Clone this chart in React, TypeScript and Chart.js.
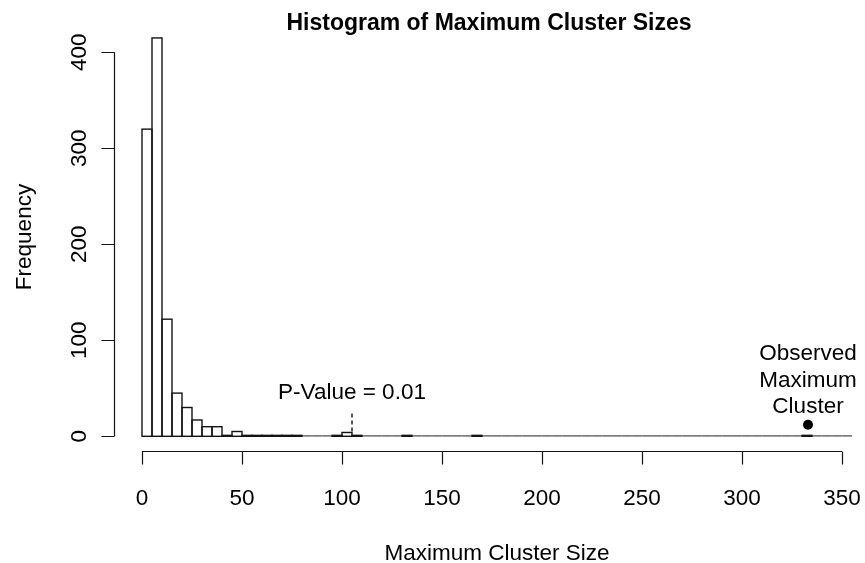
import { useEffect, useRef } from "react";
import { Chart, registerables } from "chart.js";

Chart.register(...registerables);

// Histogram bins: bin i covers [i * binWidth, (i + 1) * binWidth)
const binWidth = 5;
const clusterCounts = [
  320, 415, 122, 45, 30, 17, 10, 10, 1, 5,
  1, 1, 1, 1, 1, 1, 0, 0, 0, 1,
  4, 1, 0, 0, 0, 0, 1, 0, 0, 0,
  0, 0, 0, 1, 0, 0, 0, 0, 0, 0,
  0, 0, 0, 0, 0, 0, 0, 0, 0, 0,
  0, 0, 0, 0, 0, 0, 0, 0, 0, 0,
  0, 0, 0, 0, 0, 0, 1, 0, 0, 0,
  0,
];

const xTicks = [0, 50, 100, 150, 200, 250, 300, 350];
const yTicks = [0, 100, 200, 300, 400];

const chartTitle = "Histogram of Maximum Cluster Sizes";
const xTitle = "Maximum Cluster Size";
const yTitle = "Frequency";

// P-value marker
const pValueText = "P-Value = 0.01";
const pValueAt = 105;
const pValueDash = [5, 25];
const pValueTextY = 47;

// observed statistic
const observedSize = 333;
const observedY = 12;
const observedText = ["Observed", "Maximum", "Cluster"];
const observedTextY = 60;

const FONT = '"Liberation Sans", Arial, sans-serif';
const INK = "#141414";
const FS = 22.5;
const TITLE_FS = 23;
const CAP = 0.716;

const binCenters = clusterCounts.map((_, i) => i * binWidth + binWidth / 2);
const lastEdge = clusterCounts.length * binWidth;

function capText(ctx: CanvasRenderingContext2D, s: string, x: number, cy: number, size: number) {
  ctx.fillText(s, x, cy + (CAP * size) / 2);
}

// outlines each histogram rectangle with a centred stroke
const barOutlines = {
  id: "barOutlines",
  afterDatasetsDraw(chart: any) {
    const { ctx } = chart;
    const meta = chart.getDatasetMeta(0);
    ctx.save();
    ctx.strokeStyle = INK;
    ctx.lineWidth = 1.4;
    meta.data.forEach((el: any, i: number) => {
      if (!clusterCounts[i]) return;
      const { x, y, base, width } = el.getProps(["x", "y", "base", "width"], true);
      ctx.strokeRect(x - width / 2, y, width, base - y);
    });
    ctx.restore();
  },
};

const rStyleAxes = {
  id: "rStyleAxes",
  afterDraw(chart: any) {
    const { ctx, chartArea } = chart;
    const xs = chart.scales.x;
    const ys = chart.scales.y;
    const X = (v: number) => xs.getPixelForValue(v);
    const Y = (v: number) => ys.getPixelForValue(v);
    const tick = 13;

    ctx.save();
    ctx.strokeStyle = INK;
    ctx.fillStyle = "#000";
    ctx.lineWidth = 1.2;

    // bottom axis
    const axY = Math.round(chartArea.bottom) - 0.5;
    ctx.beginPath();
    ctx.moveTo(X(xTicks[0]), axY);
    ctx.lineTo(X(xTicks[xTicks.length - 1]), axY);
    for (const t of xTicks) {
      const px = Math.round(X(t)) + 0.5;
      ctx.moveTo(px, axY);
      ctx.lineTo(px, axY + tick);
    }
    ctx.stroke();

    ctx.font = `${FS}px ${FONT}`;
    ctx.textAlign = "center";
    ctx.textBaseline = "alphabetic";
    for (const t of xTicks) capText(ctx, String(t), X(t), axY + 45, FS);

    // left axis
    const axX = Math.round(chartArea.left) + 0.5;
    ctx.beginPath();
    ctx.moveTo(axX, Y(yTicks[0]));
    ctx.lineTo(axX, Y(yTicks[yTicks.length - 1]));
    for (const t of yTicks) {
      const py = Math.round(Y(t)) + 0.5;
      ctx.moveTo(axX, py);
      ctx.lineTo(axX - tick, py);
    }
    ctx.stroke();

    for (const t of yTicks) {
      ctx.save();
      ctx.translate(axX - 37, Y(t));
      ctx.rotate(-Math.PI / 2);
      capText(ctx, String(t), 0, 0, FS);
      ctx.restore();
    }

    // axis titles
    const midX = (chartArea.left + chartArea.right) / 2 + 14;
    capText(ctx, xTitle, midX, axY + 100, FS);

    ctx.save();
    ctx.translate(31, 237);
    ctx.rotate(-Math.PI / 2);
    ctx.fillText(yTitle, 0, 0);
    ctx.restore();

    // main title
    ctx.font = `bold ${TITLE_FS}px ${FONT}`;
    capText(ctx, chartTitle, midX - 8, 22, TITLE_FS);

    // annotations
    ctx.font = `${FS}px ${FONT}`;
    capText(ctx, pValueText, X(pValueAt), Y(pValueTextY), FS);
    const lineGap = 26.5;
    const n = observedText.length;
    observedText.forEach((s, i) => {
      capText(ctx, s, X(observedSize), Y(observedTextY) + (i - (n - 1) / 2) * lineGap, FS);
    });

    ctx.restore();
  },
};

export default function App() {
  const ref = useRef<HTMLCanvasElement | null>(null);

  useEffect(() => {
    if (!ref.current) return;
    const chart = new Chart(ref.current, {
      type: "bar",
      data: {
        datasets: [
          {
            type: "bar",
            data: binCenters.map((x, i) => ({ x, y: clusterCounts[i] })),
            backgroundColor: "#ffffff",
            borderWidth: 0,
            barPercentage: 1,
            categoryPercentage: 1,
            clip: false,
          } as any,
          {
            type: "line",
            data: [
              { x: 0, y: 0 },
              { x: lastEdge, y: 0 },
            ],
            borderColor: "#000",
            borderWidth: 1.5,
            pointRadius: 0,
          } as any,
          {
            type: "line",
            data: [
              { x: pValueAt, y: pValueDash[0] },
              { x: pValueAt, y: pValueDash[1] },
            ],
            borderColor: "#000",
            borderWidth: 1.3,
            borderDash: [4, 3],
            pointRadius: 0,
          } as any,
          {
            type: "scatter",
            data: [{ x: observedSize, y: observedY }],
            backgroundColor: "#000",
            borderColor: "#000",
            pointRadius: 5,
            borderWidth: 0,
          } as any,
        ],
      },
      options: {
        responsive: false,
        animation: false,
        layout: { padding: { left: 114, right: 13, top: 22, bottom: 111 } },
        scales: {
          x: { type: "linear", min: -14, max: 355, display: false, offset: false },
          y: { type: "linear", min: -16.35, max: 431.6, display: false },
        },
        plugins: {
          legend: { display: false },
          tooltip: { enabled: false },
        },
      },
      plugins: [barOutlines, rStyleAxes],
    });
    return () => chart.destroy();
  }, []);

  return (
    <canvas
      ref={ref}
      width={865}
      height={563}
      style={{ position: "absolute", left: 0, top: 0, width: 865, height: 563, background: "#fff" }}
    />
  );
}
